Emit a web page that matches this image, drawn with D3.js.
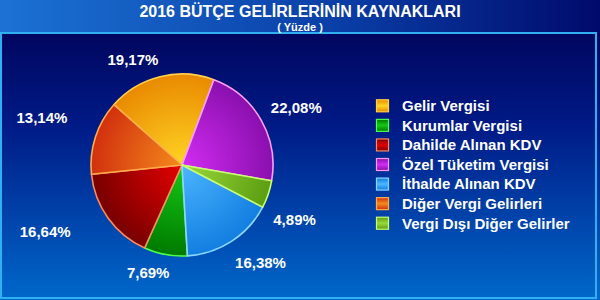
<!DOCTYPE html>
<html>
<head>
<meta charset="utf-8">
<script src="https://cdn.jsdelivr.net/npm/d3@7"></script>
<style>
  html, body { margin: 0; padding: 0; background: #000066; }
  svg { display: block; font-family: Arial, "Liberation Sans", sans-serif; }
</style>
</head>
<body>
<svg id="chart" width="600" height="300"></svg>
<script>
// legend order
var categories = ["Gelir Vergisi", "Kurumlar Vergisi", "Dahilde Alınan KDV", "Özel Tüketim Vergisi",
                  "İthalde Alınan KDV", "Diğer Vergi Gelirleri", "Vergi Dışı Diğer Gelirler"];
var values = [19.17, 7.69, 16.64, 22.08, 16.38, 13.14, 4.89];
var valueLabels = ["19,17%", "7,69%", "16,64%", "22,08%", "16,38%", "13,14%", "4,89%"];
// clockwise order of slices in the pie
var pieOrder = ["Özel Tüketim Vergisi", "Vergi Dışı Diğer Gelirler", "İthalde Alınan KDV",
                "Kurumlar Vergisi", "Dahilde Alınan KDV", "Diğer Vergi Gelirleri", "Gelir Vergisi"];

// colours: [inner, outer, stroke]
var colors = [
  ["#ffd424", "#e98a00", "#ffd24a"],
  ["#16c816", "#007a00", "#4dff4d"],
  ["#e40000", "#780000", "#ff8a5a"],
  ["#d22cf2", "#8a0fae", "#ff9cff"],
  ["#4cb6ff", "#127ee0", "#8ad6ff"],
  ["#f48a1c", "#d2300e", "#ffac4a"],
  ["#9ad83a", "#5c9e12", "#c8ff70"]
];
// label placement: shift from slice middle (deg) and distance from centre
var labelShift = [-11, 7, 10, 3, -6, 1, 7];
var labelDist = [116, 113, 152, 128, 125, 148, 125];

var svg = d3.select("#chart");
var W = 600, H = 300;
var cx = 182, cy = 165, R = 91;
var defs = svg.append("defs");

var hg = defs.append("linearGradient").attr("id", "head").attr("x1", 0).attr("x2", 1).attr("y1", 0).attr("y2", 0);
hg.append("stop").attr("offset", 0).attr("stop-color", "#1c72d4");
hg.append("stop").attr("offset", 0.55).attr("stop-color", "#0a40a8");
hg.append("stop").attr("offset", 1).attr("stop-color", "#000a6c");

var pg = defs.append("linearGradient").attr("id", "panel").attr("x1", 0).attr("x2", 0).attr("y1", 0).attr("y2", 1);
pg.append("stop").attr("offset", 0).attr("stop-color", "#00065e");
pg.append("stop").attr("offset", 0.35).attr("stop-color", "#001a86");
pg.append("stop").attr("offset", 1).attr("stop-color", "#0068ca");

svg.append("rect").attr("width", W).attr("height", 33).attr("fill", "url(#head)");
svg.append("rect").attr("x", 0).attr("y", 32).attr("width", W).attr("height", 268).attr("fill", "url(#panel)");
svg.append("rect").attr("x", 1).attr("y", 33).attr("width", 595).attr("height", 265)
  .attr("fill", "none").attr("stroke", "#2eb0f2").attr("stroke-width", 2);

svg.append("text").attr("x", 300).attr("y", 17).attr("text-anchor", "middle")
  .attr("fill", "#ffffff").attr("font-size", 16).attr("font-weight", "bold")
  .text("2016 BÜTÇE GELİRLERİNİN KAYNAKLARI");
svg.append("text").attr("x", 300).attr("y", 30.5).attr("text-anchor", "middle")
  .attr("fill", "#ffffff").attr("font-size", 11).attr("font-weight", "bold")
  .text("( Yüzde )");

var data = categories.map(function(c, i) {
  return {name: c, value: values[i], label: valueLabels[i], i: i};
});

colors.forEach(function(c, i) {
  var g = defs.append("radialGradient").attr("id", "sl" + i)
    .attr("gradientUnits", "userSpaceOnUse")
    .attr("cx", 0).attr("cy", 0).attr("r", R);
  g.append("stop").attr("offset", 0).attr("stop-color", c[0]);
  g.append("stop").attr("offset", 1).attr("stop-color", c[1]);
  var s = defs.append("linearGradient").attr("id", "sw" + i)
    .attr("x1", 0).attr("x2", 0).attr("y1", 0).attr("y2", 1);
  s.append("stop").attr("offset", 0).attr("stop-color", c[1]);
  s.append("stop").attr("offset", 0.5).attr("stop-color", c[0]);
  s.append("stop").attr("offset", 1).attr("stop-color", c[1]);
});

var start = 20.5 * Math.PI / 180;
var pie = d3.pie()
  .value(function(d) { return d.value; })
  .sort(function(a, b) { return pieOrder.indexOf(a.name) - pieOrder.indexOf(b.name); })
  .startAngle(start).endAngle(start + 2 * Math.PI);
var arc = d3.arc().innerRadius(0).outerRadius(R);
var arcs = pie(data);

var g = svg.append("g").attr("transform", "translate(" + cx + "," + cy + ")");
g.selectAll("path.slice")
  .data(arcs)
  .enter().append("path")
  .attr("class", "slice")
  .attr("d", arc)
  .attr("fill", function(d) { return "url(#sl" + d.data.i + ")"; })
  .attr("stroke", function(d) { return colors[d.data.i][2]; })
  .attr("stroke-width", 1.6)
  .attr("stroke-linejoin", "round");

g.selectAll("text.lbl")
  .data(arcs)
  .enter().append("text")
  .attr("class", "lbl")
  .attr("transform", function(d) {
    var a = (d.startAngle + d.endAngle) / 2 + labelShift[d.data.i] * Math.PI / 180;
    var rr = labelDist[d.data.i];
    return "translate(" + (rr * Math.sin(a)) + "," + (-rr * Math.cos(a)) + ")";
  })
  .attr("text-anchor", "middle")
  .attr("dy", "0.36em")
  .attr("fill", "#ffffff")
  .attr("font-size", 15)
  .attr("font-weight", "bold")
  .text(function(d) { return d.data.label; });

var legendY = d3.scaleBand().domain(categories).range([96, 233]);
var lg = svg.append("g").selectAll("g")
  .data(data)
  .enter().append("g")
  .attr("transform", function(d) { return "translate(376," + (legendY(d.name) + legendY.bandwidth() / 2) + ")"; });
lg.append("rect")
  .attr("x", 0.5).attr("y", -6).attr("width", 12).attr("height", 12)
  .attr("fill", function(d) { return "url(#sw" + d.i + ")"; })
  .attr("stroke", function(d) { return colors[d.i][2]; })
  .attr("stroke-width", 1.2);
lg.append("text")
  .attr("x", 26).attr("dy", "0.36em")
  .attr("fill", "#ffffff")
  .attr("font-size", 15)
  .attr("font-weight", "bold")
  .text(function(d) { return d.name; });
</script>
</body>
</html>
